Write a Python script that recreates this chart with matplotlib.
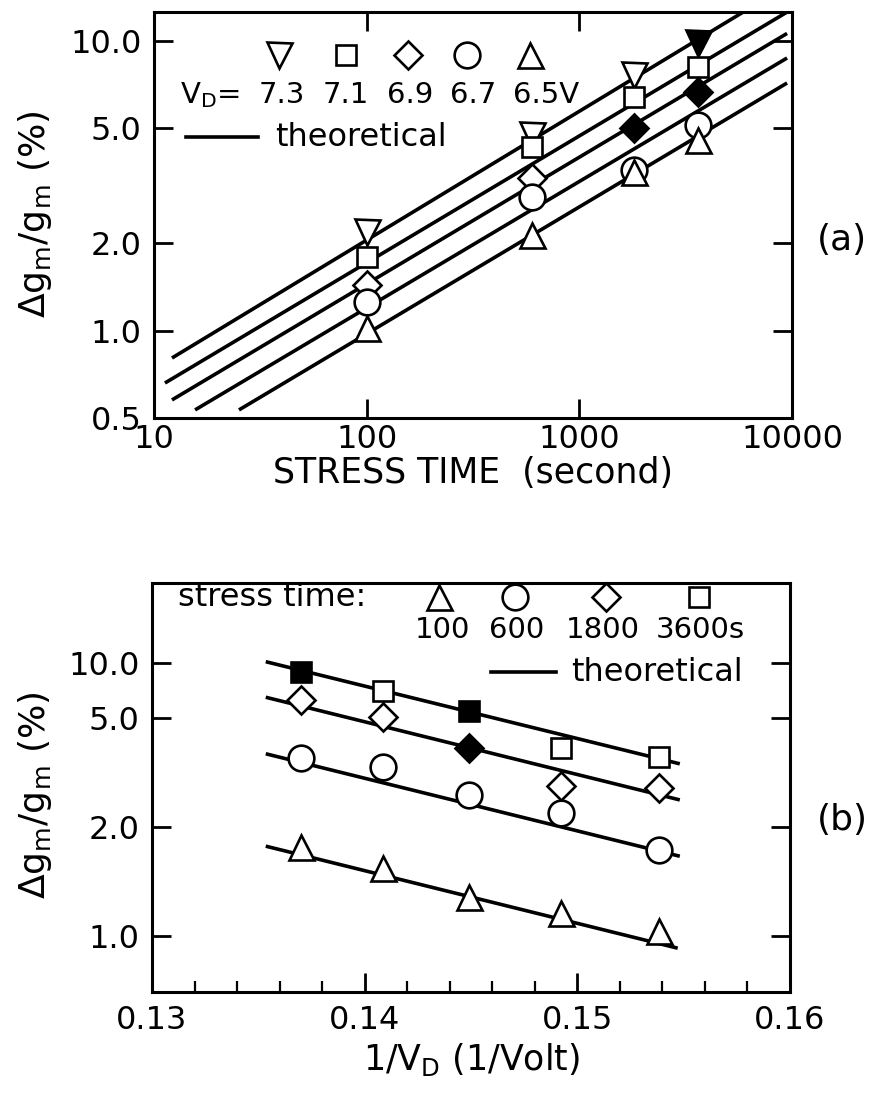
import numpy as np
import matplotlib
matplotlib.use('Agg')
import matplotlib.pyplot as plt
from matplotlib.ticker import FixedLocator, NullLocator

plt.rcParams['font.family'] = ['DejaVu Sans']
plt.rcParams['mathtext.fontset'] = 'dejavusans'

# ---------------- panel (a): dgm/gm vs stress time ----------------
stress_time = [100, 600, 1800, 3600]
vd_labels = ['7.3', '7.1', '6.9', '6.7', '6.5']
dgm_73 = [2.19, 4.74, 7.63, 9.84]
dgm_71 = [1.80, 4.31, 6.41, 8.13]
dgm_69 = [1.44, 3.37, 5.01, 6.67]
dgm_67 = [1.26, 2.90, 3.59, 5.13]
dgm_65 = [1.02, 2.14, 3.53, 4.56]
filled_73 = [False, False, False, True]
filled_69 = [False, False, True, True]

# theoretical lines (end points)
theo_t0 = [12.15, 11.26, 12.15, 15.6, 25.1]
theo_t1 = [6150, 9480, 9480, 9480, 9480]
theo_a0 = [0.805, 0.660, 0.577, 0.533, 0.533]
theo_a1 = [12.8, 12.56, 10.6, 8.72, 7.15]

# ---------------- panel (b): dgm/gm vs 1/VD ----------------
vd = [7.3, 7.1, 6.9, 6.7, 6.5]
inv_vd = [1.0 / v for v in vd]
time_labels = ['100', '600', '1800', '3600s']
dgm_t100 = [1.765, 1.54, 1.28, 1.155, 1.03]
dgm_t600 = [3.57, 3.32, 2.62, 2.24, 1.73]
dgm_t1800 = [6.27, 5.08, 3.87, 2.81, 2.77]
dgm_t3600 = [8.95, 7.03, 5.48, 3.87, 3.61]
filled_t1800 = [False, False, True, False, False]
filled_t3600 = [True, False, True, False, False]

theo_x0 = [0.13535, 0.13535, 0.13535, 0.13535]
theo_x1 = [0.15472, 0.15482, 0.15482, 0.15482]
theo_b0 = [1.77, 3.70, 6.49, 10.16]
theo_b1 = [0.925, 1.66, 2.51, 3.40]

# marker style per series
mk_a = [('v', 18), ('s', 14.5), ('D', 14.5), ('o', 18.5), ('^', 18)]
mk_b = [('^', 18), ('o', 18.5), ('D', 14.5), ('s', 14.5)]

LW = 2.6
MEW = 1.9
FS_TICK = 23
FS_TXT = 23
FS_LEG = 21

fig = plt.figure(figsize=(8.8, 10.97), dpi=100)
fig.patch.set_facecolor('white')


def draw_points(ax, x, y, marker, size, filled=None):
    if filled is None:
        filled = [False] * len(x)
    for xi, yi, f in zip(x, y, filled):
        ax.plot(xi, yi, marker=marker, ms=size, mec='black', mew=MEW,
                mfc='black' if f else 'white', ls='none', zorder=3)


def frame(ax):
    for s in ax.spines.values():
        s.set_linewidth(2.2)
    ax.tick_params(which='major', direction='in', length=14, width=2,
                   labelsize=FS_TICK, pad=9)
    ax.tick_params(which='minor', direction='in', length=8, width=1.6)


# ----- (a) -----
ax1 = fig.add_axes([0.175, 0.619, 0.725, 0.370])
ax1.set_xscale('log')
ax1.set_yscale('log')
ax1.set_xlim(10, 10000)
ax1.set_ylim(0.5, 12.56)

for t0, t1, a0, a1 in zip(theo_t0, theo_t1, theo_a0, theo_a1):
    ax1.plot([t0, t1], [a0, a1], color='black', lw=LW, solid_capstyle='butt', zorder=2)

series_a = [dgm_73, dgm_71, dgm_69, dgm_67, dgm_65]
fills_a = [filled_73, None, filled_69, None, None]
for vals, (m, s), f in zip(series_a, mk_a, fills_a):
    draw_points(ax1, stress_time, vals, m, s, f)

ax1.xaxis.set_major_locator(FixedLocator([10, 100, 1000, 10000]))
ax1.set_xticklabels(['10', '100', '1000', '10000'])
ax1.yaxis.set_major_locator(FixedLocator([0.5, 1, 2, 5, 10]))
ax1.set_yticklabels(['0.5', '1.0', '2.0', '5.0', '10.0'])
ax1.xaxis.set_minor_locator(NullLocator())
ax1.yaxis.set_minor_locator(NullLocator())
frame(ax1)
ax1.tick_params(top=True, right=True)
ax1.tick_params(axis='x', pad=4)
ax1.set_xlabel('STRESS TIME  (second)', fontsize=FS_TXT + 2, labelpad=1)

# legend of (a)
leg_x = [0.196, 0.301, 0.398, 0.490, 0.589]
for (m, s), xx in zip(mk_a, leg_x):
    ax1.plot(xx, 0.894, marker=m, ms=s, mec='black', mew=MEW, mfc='white',
             ls='none', transform=ax1.transAxes, clip_on=False)
ax1.text(0.041, 0.796, r'$\mathregular{V_D}$=', transform=ax1.transAxes,
         fontsize=FS_LEG, ha='left', va='center')
for lab, xx in zip(vd_labels[:-1], [0.2006, 0.301, 0.401, 0.500]):
    ax1.text(xx, 0.796, lab, transform=ax1.transAxes, fontsize=FS_LEG,
             ha='center', va='center')
ax1.text(0.562, 0.796, vd_labels[-1] + 'V', transform=ax1.transAxes,
         fontsize=FS_LEG, ha='left', va='center')
ax1.plot([0.050, 0.163], [0.692, 0.692], color='black', lw=LW,
         transform=ax1.transAxes)
ax1.text(0.190, 0.692, 'theoretical', transform=ax1.transAxes,
         fontsize=FS_TXT, ha='left', va='center')

# ----- (b) -----
# the printed axis of (b) has uneven spacing between its tick values,
# so a piecewise log scale reproduces it
knot_log = np.log10([0.1, 1.0, 2.0, 5.0, 10.0, 100.0])
knot_pos = np.array([-362.0, 0.0, 109.0, 218.0, 273.0, 456.0])


def fwd(y):
    y = np.asarray(y, dtype=float)
    return np.interp(np.log10(np.clip(y, 1e-9, None)), knot_log, knot_pos)


def inv(u):
    return 10 ** np.interp(np.asarray(u, dtype=float), knot_pos, knot_log)


ax2 = fig.add_axes([0.1727, 0.0957, 0.725, 0.373])
ax2.set_yscale('function', functions=(fwd, inv))
ax2.set_xlim(0.13, 0.16)
ax2.set_ylim(0.70, 27.4)

for x0, x1, b0, b1 in zip(theo_x0, theo_x1, theo_b0, theo_b1):
    ax2.plot([x0, x1], [b0, b1], color='black', lw=LW, solid_capstyle='butt', zorder=2)

series_b = [dgm_t100, dgm_t600, dgm_t1800, dgm_t3600]
fills_b = [None, None, filled_t1800, filled_t3600]
for vals, (m, s), f in zip(series_b, mk_b, fills_b):
    draw_points(ax2, inv_vd, vals, m, s, f)

ax2.xaxis.set_major_locator(FixedLocator([0.13, 0.14, 0.15, 0.16]))
ax2.set_xticklabels(['0.13', '0.14', '0.15', '0.16'])
ax2.xaxis.set_minor_locator(FixedLocator(np.arange(0.13, 0.1601, 0.002)))
ax2.yaxis.set_major_locator(FixedLocator([1, 2, 5, 10]))
ax2.set_yticklabels(['1.0', '2.0', '5.0', '10.0'])
ax2.yaxis.set_minor_locator(NullLocator())
frame(ax2)
ax2.tick_params(axis='y', right=True)
ax2.set_xlabel(r'1/$\mathregular{V_D}$ (1/Volt)', fontsize=FS_TXT + 2, labelpad=4)

# legend of (b)
ax2.text(0.041, 0.963, 'stress time:', transform=ax2.transAxes,
         fontsize=FS_TXT, ha='left', va='center')
leg_xb = [0.450, 0.569, 0.712, 0.857]
for (m, s), xx in zip(mk_b, leg_xb):
    ax2.plot(xx, 0.966, marker=m, ms=s, mec='black', mew=MEW, mfc='white',
             ls='none', transform=ax2.transAxes, clip_on=False)
for lab, xx in zip(time_labels[:-1], [0.456, 0.571, 0.707]):
    ax2.text(xx, 0.885, lab, transform=ax2.transAxes, fontsize=FS_LEG,
             ha='center', va='center')
ax2.text(0.790, 0.885, time_labels[-1], transform=ax2.transAxes,
         fontsize=FS_LEG, ha='left', va='center')
ax2.plot([0.531, 0.633], [0.782, 0.782], color='black', lw=LW,
         transform=ax2.transAxes)
ax2.text(0.657, 0.782, 'theoretical', transform=ax2.transAxes,
         fontsize=FS_TXT, ha='left', va='center')

# y labels and panel tags
ylab = r'$\mathregular{\Delta g_m / g_m}$ (%)'
fig.text(0.04, 0.805, ylab, rotation=90, fontsize=FS_TXT + 3, ha='center', va='center')
fig.text(0.04, 0.275, ylab, rotation=90, fontsize=FS_TXT + 3, ha='center', va='center')
fig.text(0.957, 0.781, '(a)', fontsize=FS_TXT + 3, ha='center', va='center')
fig.text(0.957, 0.2525, '(b)', fontsize=FS_TXT + 3, ha='center', va='center')

fig.savefig('out.png', dpi=100, facecolor='white')
